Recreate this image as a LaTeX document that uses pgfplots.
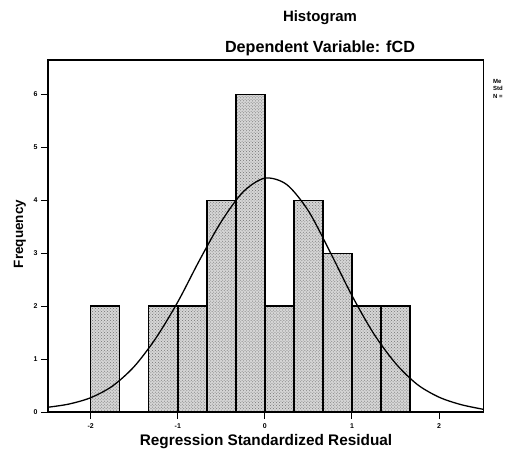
\documentclass[border=0pt]{standalone}
\usepackage{pgfplots}
\pgfplotsset{compat=1.18}
\usepackage{fontspec}
\setmainfont{Liberation Sans}
\usetikzlibrary{patterns}
\begin{document}
\begin{tikzpicture}[x=1bp,y=1bp]
\begin{axis}[
  at={(0,0)}, anchor=south west,
  scale only axis,
  width=435.5bp, height=351.8bp,
  xmin=-2.49, xmax=2.51,
  ymin=0, ymax=6.65,
  axis line style={line width=1.6pt},
  tick pos=left,
  tick align=outside,
  major tick length=7bp,
  tick style={line width=1pt,black},
  xtick={-2,-1,0,1,2},
  ytick={0,1,2,3,4,5,6},
  /pgf/number format/assume math mode=true,
  ticklabel style={font=\fontsize{7}{8}\selectfont\bfseries},
  xticklabel style={yshift=-1bp},
  clip=false,
]
\addplot[ybar interval, draw=black, line width=1.5pt,
  fill=black!16,
  postaction={pattern=crosshatch dots, pattern color=black!55}]
  coordinates {
  (-2.0000,2) (-1.6667,0) (-1.3333,2) (-1.0000,2) (-0.6667,4)
  (-0.3333,6) (0.0000,2) (0.3333,4) (0.6667,3) (1.0000,2)
  (1.3333,2) (1.6667,0)
  };
\addplot[smooth, black, line width=1.3pt] coordinates {
  (-2.49,0.09) (-2.25,0.15) (-2.0,0.27) (-1.75,0.49) (-1.5,0.86)
  (-1.25,1.40) (-1.0,2.08) (-0.75,2.87) (-0.5,3.60) (-0.25,4.16)
  (0.0,4.42) (0.25,4.30) (0.5,3.80) (0.75,3.02) (1.0,2.20)
  (1.25,1.48) (1.5,0.92) (1.75,0.52) (2.0,0.28) (2.25,0.14) (2.51,0.05)
};
\end{axis}
\node[font=\fontsize{15}{17}\selectfont\bfseries] at (272,394) {Histogram};
\node[font=\fontsize{16.2}{18}\selectfont\bfseries] at (272,364) {Dependent Variable: fCD};
\node[font=\fontsize{15.4}{17}\selectfont\bfseries] at (218,-30) {Regression Standardized Residual};
\node[font=\fontsize{13.5}{16}\selectfont\bfseries, rotate=90] at (-28,178) {Frequency};
\node[font=\fontsize{6}{7.5}\selectfont\bfseries, anchor=north west, align=left, inner sep=0pt] at (445,333) {Me\\Std\\N =};
\pgfresetboundingbox
\path[use as bounding box] (-48,-43) rectangle (458,412);
\end{tikzpicture}
\end{document}
